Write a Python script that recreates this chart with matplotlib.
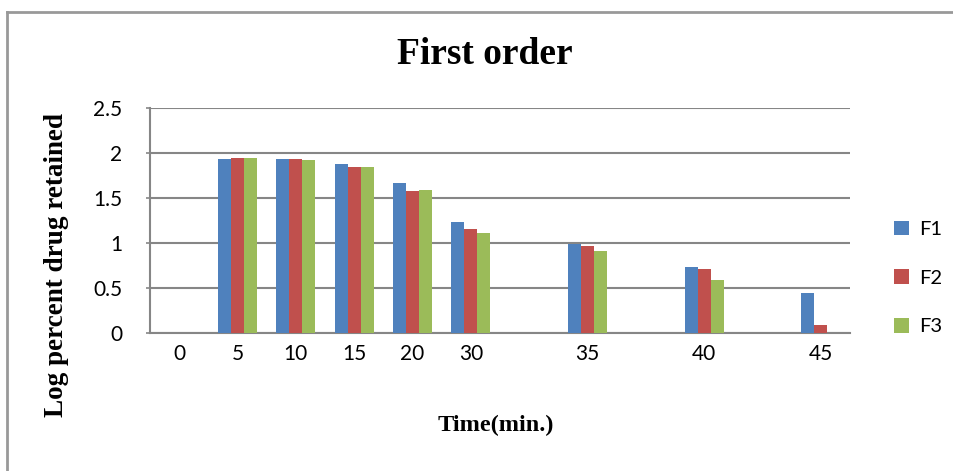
import matplotlib.pyplot as plt
import numpy as np
from matplotlib.lines import Line2D

# time points (blank slots keep the excel-style gaps between 30, 35, 40, 45)
categories = ['0', '5', '10', '15', '20', '30', '', '35', '', '40', '', '45']
f1 = [0, 1.937, 1.937, 1.878, 1.667, 1.233, 0, 0.985, 0, 0.733, 0, 0.444]
f2 = [0, 1.948, 1.937, 1.844, 1.574, 1.156, 0, 0.963, 0, 0.711, 0, 0.093]
f3 = [0, 1.948, 1.919, 1.844, 1.589, 1.111, 0, 0.914, 0, 0.585, 0, 0.0]
series = [('F1', f1, '#4F81BD'), ('F2', f2, '#C0504D'), ('F3', f3, '#9BBB59')]

fig = plt.figure(figsize=(9.54, 4.71), dpi=100)
ax = fig.add_axes([0.1572, 0.293, 0.7338, 0.4777])

x = np.arange(len(categories))
w = 0.223
for i, (name, vals, col) in enumerate(series):
    ax.bar(x + (i - 1) * w, vals, w, color=col, label=name, zorder=3)

grid_col = '#868686'
ax.set_xlim(-0.5, len(categories) - 0.5)
ax.set_ylim(0, 2.5)
ax.set_yticks([0, 0.5, 1, 1.5, 2, 2.5])
ax.set_yticklabels(['0', '0.5', '1', '1.5', '2', '2.5'])
ax.set_xticks(x)
ax.set_xticklabels(categories)
ax.yaxis.grid(True, color=grid_col, linewidth=1.5, zorder=0)
for s in ['top', 'right']:
    ax.spines[s].set_visible(False)
for s in ['left', 'bottom']:
    ax.spines[s].set_color(grid_col)
    ax.spines[s].set_linewidth(1.5)
ax.tick_params(axis='y', length=3, color=grid_col, width=1.2, pad=17,
               labelsize=15)
ax.tick_params(axis='x', length=0, pad=8, labelsize=15)
for lab in ax.get_xticklabels() + ax.get_yticklabels():
    lab.set_fontfamily('Lato')

serif = dict(fontfamily='Liberation Serif', fontweight='bold')
fig.text(485 / 954, 1 - 54 / 471, 'First order', fontsize=27,
         ha='center', va='center', **serif)
fig.text(496 / 954, 1 - 425 / 471, 'Time(min.)', fontsize=17.5,
         ha='center', va='center', **serif)
fig.text(57 / 954, 1 - 265 / 471, 'Log percent drug retained', fontsize=19.5,
         rotation=90, ha='center', va='center', **serif)

leg = ax.legend(loc='center left', bbox_to_anchor=(876 / 954, 1 - 278 / 471),
                bbox_transform=fig.transFigure, frameon=False,
                prop={'family': 'Lato', 'size': 14.5}, handlelength=0.75,
                handleheight=0.75, handletextpad=0.5, labelspacing=1.55)

# outer chart border
fig.add_artist(Line2D([0.0073, 0.0073], [0, 0.9745], color='#999999', lw=2,
                      transform=fig.transFigure))
fig.add_artist(Line2D([0.0073, 1.0], [0.9745, 0.9745], color='#999999', lw=2,
                      transform=fig.transFigure))

fig.savefig('out.png', dpi=100)
